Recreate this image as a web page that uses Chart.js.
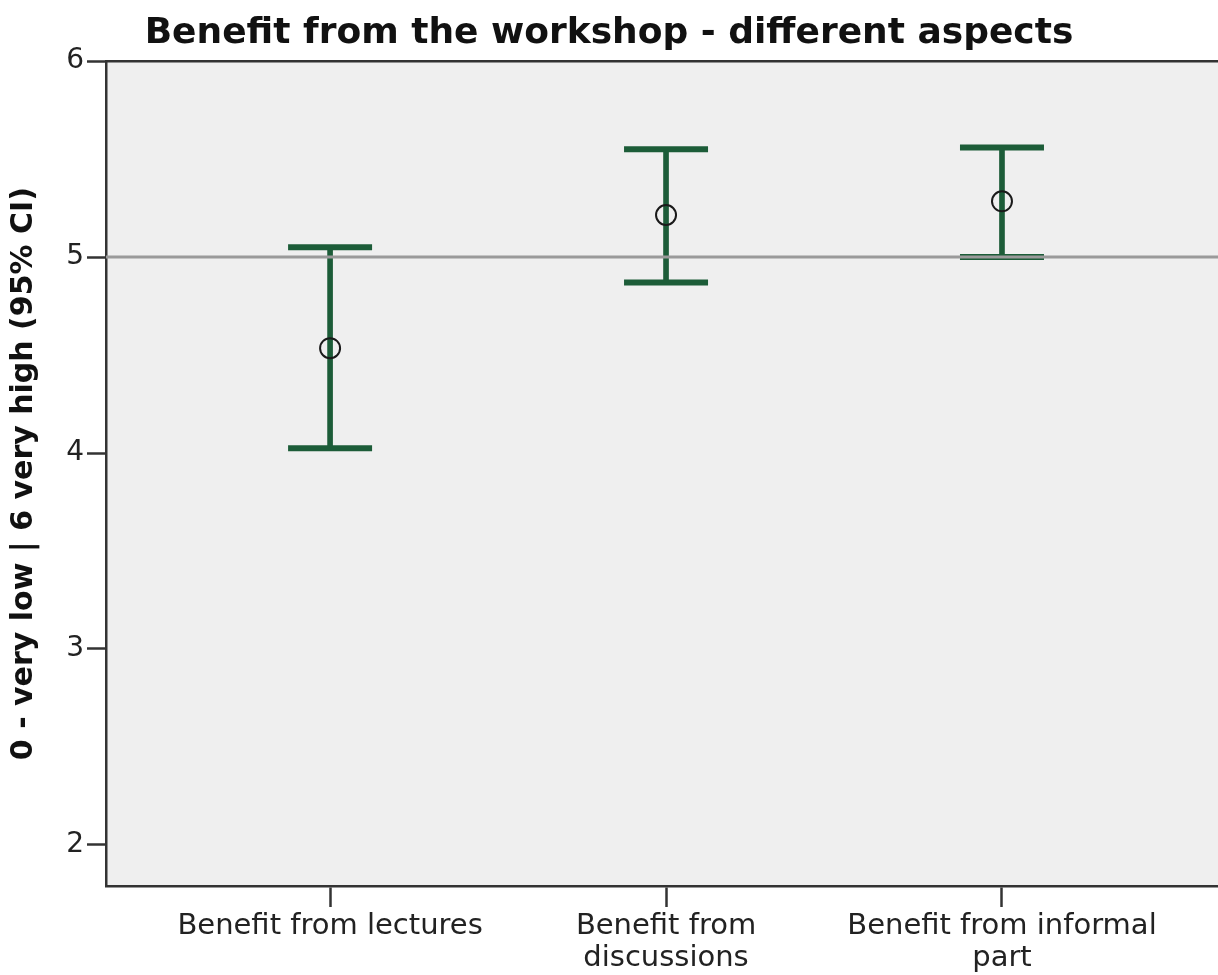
<!DOCTYPE html>
<html>
<head>
<meta charset="utf-8">
<script src="https://cdn.jsdelivr.net/npm/chart.js@4"></script>
<style>
  html, body { margin: 0; padding: 0; background: #fff; }
  #wrap { width: 1218px; height: 975px; }
</style>
</head>
<body>
<div id="wrap"><canvas id="chart"></canvas></div>
<script>
const categories = [['Benefit from lectures'], ['Benefit from', 'discussions'], ['Benefit from informal', 'part']];
const means = [4.535, 5.215, 5.285];
const lower = [4.025, 4.87, 5.0];
const upper = [5.05, 5.55, 5.56];
const yTicks = [2, 3, 4, 5, 6];
const refValue = 5;

const green = '#1c5c38';
const axisColor = '#333';
const font = 'DejaVu Sans';
const xMin = 0.333, xMax = 3.643;

// plot background + top frame line
const plotFrame = {
  id: 'plotFrame',
  beforeDraw(chart) {
    const { ctx, chartArea: a } = chart;
    ctx.save();
    ctx.fillStyle = '#efefef';
    ctx.fillRect(a.left, a.top, a.right - a.left, a.bottom - a.top);
    ctx.restore();
  },
  afterDraw(chart) {
    const { ctx, chartArea: a } = chart;
    ctx.save();
    ctx.strokeStyle = axisColor;
    ctx.lineWidth = 2.5;
    ctx.beginPath();
    ctx.moveTo(a.left, a.top);
    ctx.lineTo(a.right, a.top);
    ctx.stroke();
    ctx.restore();
  }
};

const stems = categories.map((c, i) => ({ x: i + 1, y: [lower[i], upper[i]] }));
const caps = categories.flatMap((c, i) => [{ x: i + 1, y: lower[i] }, { x: i + 1, y: upper[i] }]);
const meanPts = categories.map((c, i) => ({ x: i + 1, y: means[i] }));

new Chart(document.getElementById('chart'), {
  type: 'scatter',
  data: {
    datasets: [
      {
        type: 'line',
        data: [{ x: xMin, y: refValue }, { x: xMax, y: refValue }],
        borderColor: '#9a9a9a',
        borderWidth: 3,
        pointRadius: 0,
        order: 0
      },
      {
        data: meanPts,
        pointStyle: 'circle',
        pointRadius: 10,
        borderWidth: 2,
        borderColor: '#1a1a1a',
        backgroundColor: 'rgba(0,0,0,0)',
        order: 1
      },
      {
        data: caps,
        pointStyle: 'line',
        pointRadius: 42,
        borderWidth: 6,
        borderColor: green,
        order: 2
      },
      {
        type: 'bar',
        data: stems,
        backgroundColor: green,
        barThickness: 5,
        order: 3
      }
    ]
  },
  options: {
    responsive: true,
    maintainAspectRatio: false,
    animation: false,
    events: [],
    layout: { padding: 0, autoPadding: false },
    plugins: {
      legend: { display: false },
      tooltip: { enabled: false },
      title: {
        display: true,
        text: 'Benefit from the workshop - different aspects',
        color: '#111',
        font: { family: font, size: 36, weight: 'bold' },
        padding: { top: 12, bottom: 6 }
      }
    },
    scales: {
      x: {
        type: 'linear',
        min: xMin,
        max: xMax,
        offset: false,
        afterBuildTicks: s => { s.ticks = categories.map((c, i) => ({ value: i + 1 })); },
        afterFit: s => { s.height = 89; s.paddingLeft = 0; s.paddingRight = 0; },
        grid: { offset: false, drawOnChartArea: false, tickLength: 21, tickColor: axisColor, tickWidth: 2.5 },
        border: { display: true, color: axisColor, width: 2.5 },
        ticks: {
          autoSkip: false,
          maxRotation: 0,
          padding: 4,
          color: '#222',
          font: { family: font, size: 29, lineHeight: 1.1 },
          callback: v => categories[Math.round(v) - 1]
        }
      },
      y: {
        min: 1.79,
        max: 6,
        afterBuildTicks: s => { s.ticks = yTicks.map(v => ({ value: v })); },
        afterFit: s => { s.width = 106; s.paddingTop = 0; s.paddingBottom = 0; },
        grid: { drawOnChartArea: false, tickLength: 19, tickColor: axisColor, tickWidth: 2.5 },
        border: { display: true, color: axisColor, width: 2.5 },
        ticks: {
          padding: 3,
          color: '#222',
          font: { family: font, size: 28 }
        },
        title: {
          display: true,
          text: '0 - very low | 6 very high (95% CI)',
          color: '#111',
          font: { family: font, size: 30, weight: 'bold' },
          padding: { top: 6, bottom: 0 }
        }
      }
    }
  },
  plugins: [plotFrame]
});
</script>
</body>
</html>
